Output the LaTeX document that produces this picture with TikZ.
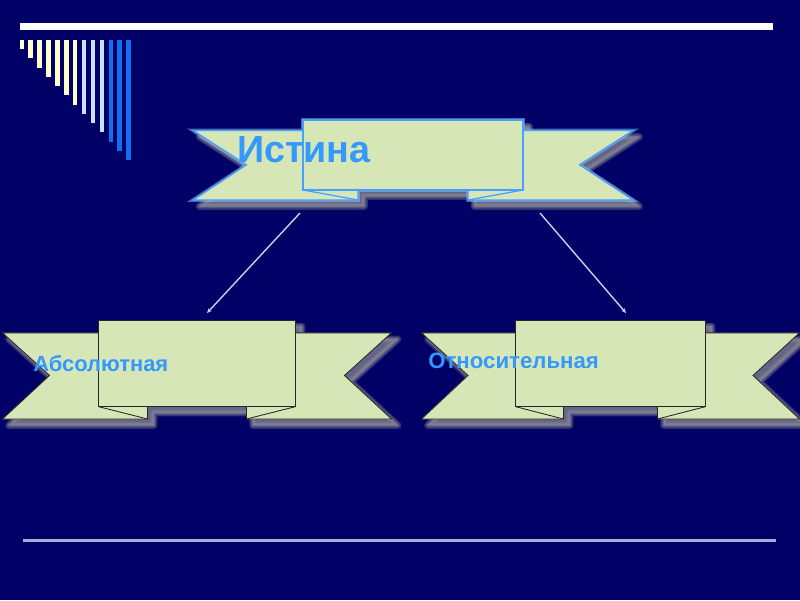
\documentclass[tikz,border=0pt]{standalone}
\usepackage{fontspec}
\setmainfont{Liberation Sans}
\usetikzlibrary{arrows.meta}

\definecolor{slidebg}{RGB}{0,0,102}
\definecolor{ribbongreen}{RGB}{215,230,182}
\definecolor{titleblue}{RGB}{51,153,255}
\definecolor{edgeblue}{RGB}{70,160,255}
\definecolor{cream}{RGB}{255,255,204}
\definecolor{paleblue}{RGB}{200,225,255}
\definecolor{barblue}{RGB}{20,110,235}
\definecolor{rulegray}{RGB}{170,170,215}
\definecolor{shadowgray}{RGB}{140,140,150}

% ribbon: center x, panel top, height, tip, notch, panel and fold half widths,
% edge style, outline style
\newcommand{\ribbon}[9]{%
  \pgfmathsetmacro\rbt{#2+0.13*#3}%
  \pgfmathsetmacro\rny{#2+0.56*#3}%
  \pgfmathsetmacro\rpb{#2+0.875*#3}%
  \pgfmathsetmacro\rbb{#2+#3}%
  \def\rshape{(#1-#4,\rbt) -- (#1-#6,\rbt) -- (#1-#6,#2) -- (#1+#6,#2) -- (#1+#6,\rbt)
    -- (#1+#4,\rbt) -- (#1+#5,\rny) -- (#1+#4,\rbb) -- (#1+#7,\rbb) -- (#1+#7,\rpb)
    -- (#1-#7,\rpb) -- (#1-#7,\rbb) -- (#1-#4,\rbb) -- (#1-#5,\rny) -- cycle}%
  % blurred shadow
  \foreach \w in {5,3,1.5}
    \draw[shadowgray, line join=round, line width=\w pt, opacity=0.35, fill, xshift=4.5pt, yshift=-4.5pt] \rshape;
  \path[fill=ribbongreen, #9] \rshape;
  \draw[#8, fill=ribbongreen] (#1-#4,\rbt) -- (#1-#7,\rbt) -- (#1-#7,\rbb) -- (#1-#4,\rbb) -- (#1-#5,\rny) -- cycle;
  \draw[#8, fill=ribbongreen] (#1+#4,\rbt) -- (#1+#7,\rbt) -- (#1+#7,\rbb) -- (#1+#4,\rbb) -- (#1+#5,\rny) -- cycle;
  \draw[#8, fill=ribbongreen] (#1-#6,#2) rectangle (#1+#6,\rpb);
  \draw[#8] (#1-#6,\rpb) -- (#1-#7,\rbb) (#1+#6,\rpb) -- (#1+#7,\rbb);
}

\begin{document}
\begin{tikzpicture}[x=0.025cm, y=-0.025cm,
    topedge/.style={draw=edgeblue, line width=0.9pt},
    lowedge/.style={draw=black!85, line width=0.6pt},
    glow/.style={draw=edgeblue!60, draw opacity=0.5, line width=2.5pt},
    label/.style={text=titleblue, anchor=base west, inner sep=0pt},
    link/.style={draw=black!5!paleblue, line width=1pt, -{Stealth[length=3.5pt, width=3pt]}}]
  \useasboundingbox[fill=slidebg] (0,0) rectangle (800,600);

  % rules and bars
  \fill[white] (20,23) rectangle (773,30);
  \fill[rulegray] (23,539) rectangle (776,542);
  \foreach \i/\c in {0/cream,1/cream,2/cream,3/cream,4/cream,5/cream,6/cream,
                     7/paleblue,8/paleblue,9/paleblue,10/barblue,11/barblue,12/barblue}
    \fill[\c] (19.5+8.9*\i,40) rectangle (24+8.9*\i,49+9.25*\i);

  \ribbon{413}{120}{80}{220}{166.5}{110}{55}{topedge}{glow}
  \ribbon{197}{320}{99}{194.5}{147.5}{98.5}{49.5}{lowedge}{}
  \ribbon{610.5}{320}{99}{189}{142.5}{95}{47}{lowedge}{}

  \node[label, font=\bfseries\fontsize{26.8pt}{30pt}\selectfont] (truth) at (237,162) {Истина};
  \node[label, font=\bfseries\fontsize{15.6pt}{18pt}\selectfont] (absolute) at (33,371) {Абсолютная};
  \node[label, font=\bfseries\fontsize{15.8pt}{18pt}\selectfont] (relative) at (428,368) {Относительная};

  \coordinate (fromleft) at (300,213);
  \coordinate (toleft) at (207,313);
  \coordinate (fromright) at (540,213);
  \coordinate (toright) at (626,313);
  \draw[link] (fromleft) -- (toleft);
  \draw[link] (fromright) -- (toright);
\end{tikzpicture}
\end{document}
